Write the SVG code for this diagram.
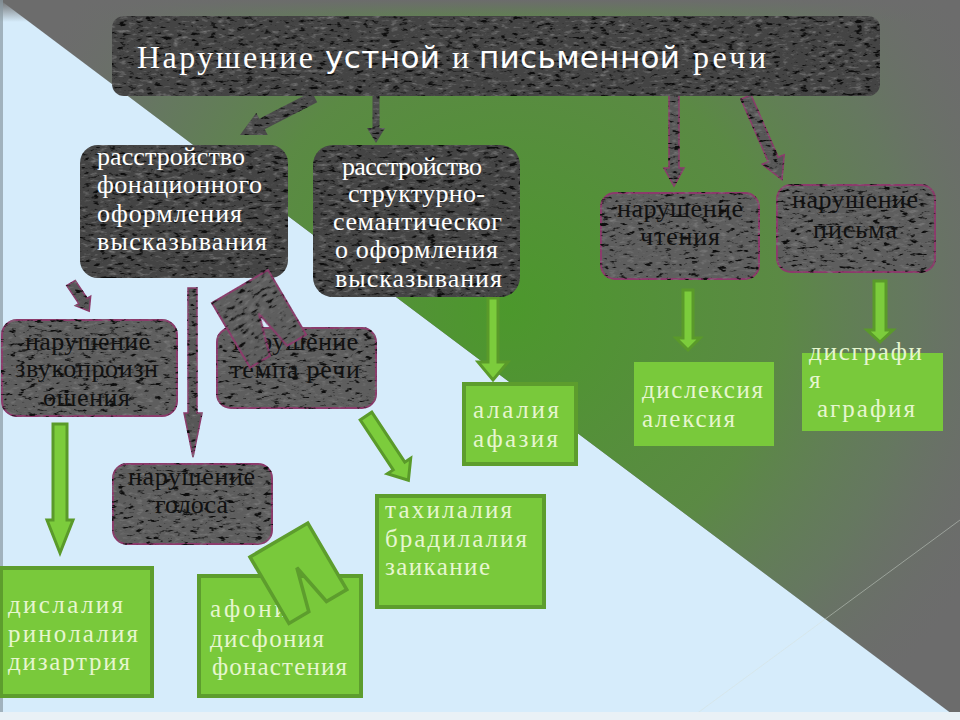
<svg xmlns="http://www.w3.org/2000/svg" width="960" height="720" viewBox="0 0 960 720">
<defs>
  <radialGradient id="glow" gradientUnits="userSpaceOnUse" cx="510" cy="310" r="540">
    <stop offset="0" stop-color="#4c982c" stop-opacity="1"/>
    <stop offset="0.5" stop-color="#5a8b42" stop-opacity="0.95"/>
    <stop offset="0.75" stop-color="#617f58" stop-opacity="0.6"/>
    <stop offset="1" stop-color="#6c6c6c" stop-opacity="0"/>
  </radialGradient>
  <linearGradient id="topfade" x1="0" y1="0" x2="0" y2="1">
    <stop offset="0" stop-color="#6c6c6c" stop-opacity="1"/>
    <stop offset="1" stop-color="#6c6c6c" stop-opacity="0"/>
  </linearGradient>
  <filter id="stone" color-interpolation-filters="sRGB">
    <feTurbulence type="fractalNoise" baseFrequency="0.11 0.3" numOctaves="3" seed="9" result="n"/>
    <feColorMatrix in="n" type="matrix" values="0 0 0 0 0.05  0 0 0 0 0.05  0 0 0 0 0.05  -6 0 0 0 2.4" result="d"/>
    <feComposite in="d" in2="SourceGraphic" operator="in" result="d2"/>
    <feColorMatrix in="n" type="matrix" values="0 0 0 0 0.48  0 0 0 0 0.48  0 0 0 0 0.48  3 0 0 0 -1.7" result="l"/>
    <feComposite in="l" in2="SourceGraphic" operator="in" result="l2"/>
    <feMerge><feMergeNode in="SourceGraphic"/><feMergeNode in="l2"/><feMergeNode in="d2"/></feMerge>
  </filter>
  <style>
    .dnode { fill: #444444; filter: url(#stone); }
    .pnode { fill: #5e5e5e; stroke: #8b3b6b; stroke-width: 2; filter: url(#stone); }
    .darrow { fill: #4a4a4a; filter: url(#stone); }
    .parrow { fill: #575757; stroke: #8b3b6b; stroke-width: 1.5; filter: url(#stone); }
    .garrow { fill: #7ccc3c; stroke: #5a9a2a; stroke-width: 3; }
    .gbox { fill: #79c93b; stroke: #5d9d2d; stroke-width: 4; }
    .gbox2 { fill: #79c93b; }
    .wt { font-family: "Liberation Serif", serif; font-size: 26px; fill: #ffffff; }
    .bt { font-family: "Liberation Serif", serif; font-size: 26px; fill: #111111; }
    .gt { font-family: "Liberation Serif", serif; font-size: 25px; fill: #e6f6cf; }
    .ts { font-family: "Liberation Serif", serif; font-size: 32px; fill: #ffffff; }
    .tn { font-family: "DejaVu Sans", sans-serif; font-size: 31px; fill: #ffffff; }
  </style>
</defs>

<g id="background">
  <rect width="960" height="720" fill="#d6ecfb"/>
  <polygon points="0,0 960,0 960,720" fill="#6c6c6c"/>
  <polygon points="0,0 960,0 960,720" fill="url(#glow)"/>
  <rect x="0" y="0" width="960" height="22" fill="url(#topfade)"/>
  <line x1="960" y1="520" x2="688" y2="720" stroke="#d8e0d8" stroke-opacity="0.45" stroke-width="1"/>
  <rect x="0" y="0" width="3" height="712" fill="#8a9aa3" opacity="0.7"/>
  <rect x="0" y="712" width="960" height="8" fill="#e9f1f6"/>
</g>

<g id="connectors">
  <polygon class="darrow" points="311.8,91.7 259.3,118.7 256.3,112.9 240,135 267.7,135.1 264.7,129.3 317.2,102.3"/>
  <polygon class="darrow" points="372.5,90 372.5,128 367,128 376,143 385,128 379.5,128 379.5,90"/>
  <polygon class="parrow" points="669,92 669,168 664,168 674,186 684,168 679,168 679,92"/>
  <polygon class="parrow" points="741,99.2 768.2,161.6 762.2,164.2 782,179.6 784.2,154.6 778.2,157.2 751,94.8"/>
  <polygon class="parrow" points="66.75,285.6 78.75,303.6 75.35,305.7 89.2,311.2 90.65,296.3 87.25,298.4 75.25,280.4"/>
  <polygon class="parrow" points="188,288 188,413 184,413 193,457 202,413 197,413 197,288"/>
  <polygon class="garrow" points="488,298 488,362 478,362 493,380 508,362 498,362 498,298"/>
  <polygon class="garrow" points="683,290 683,338 676,338 688,350 700,338 693,338 693,290"/>
  <polygon class="garrow" points="874,281 874,330 867,330 880,342 893,330 886,330 886,281"/>
  <polygon class="garrow" points="53,424 53,520 47,520 60,553 73,520 67,520 67,424"/>
  <polygon class="garrow" points="360.2,419.9 393.2,469.9 387.3,473.7 408.4,480.2 410.7,458.3 404.8,462.2 371.8,412.2"/>
</g>

<g id="title">
  <rect class="dnode" x="112" y="16" width="768" height="80" rx="12"/>
  <text class="ts" x="137" y="68" textLength="176" lengthAdjust="spacing">Нарушение</text>
  <text class="tn" x="325" y="68" textLength="115" lengthAdjust="spacing">устной</text>
  <text class="ts" x="452" y="68">и</text>
  <text class="tn" x="479" y="68" textLength="201" lengthAdjust="spacing">письменной</text>
  <text class="ts" x="693" y="68" textLength="73" lengthAdjust="spacing">речи</text>
</g>

<g id="node-fonation">
  <rect class="dnode" x="80" y="145" width="208" height="133" rx="18"/>
  <text class="wt" x="97" y="165" textLength="148" lengthAdjust="spacing">расстройство</text>
  <text class="wt" x="97" y="193" textLength="165" lengthAdjust="spacing">фонационного</text>
  <text class="wt" x="97" y="222" textLength="145" lengthAdjust="spacing">оформления</text>
  <text class="wt" x="97" y="250" textLength="170" lengthAdjust="spacing">высказывания</text>
</g>

<g id="node-structural">
  <rect class="dnode" x="313" y="145" width="207" height="152" rx="20"/>
  <text class="wt" x="342" y="175" textLength="140" lengthAdjust="spacing">расстройство</text>
  <text class="wt" x="348" y="202" textLength="137" lengthAdjust="spacing">структурно-</text>
  <text class="wt" x="333" y="230" textLength="169" lengthAdjust="spacing">семантическог</text>
  <text class="wt" x="335" y="258" textLength="163" lengthAdjust="spacing">о оформления</text>
  <text class="wt" x="335" y="287" textLength="167" lengthAdjust="spacing">высказывания</text>
</g>

<g id="node-sound">
  <rect class="pnode" x="2" y="320" width="175" height="96" rx="15"/>
  <text class="bt" x="25" y="350" textLength="125" lengthAdjust="spacing">нарушение</text>
  <text class="bt" x="15" y="377" textLength="143" lengthAdjust="spacing">звукопроизн</text>
  <text class="bt" x="43" y="406" textLength="87" lengthAdjust="spacing">ошения</text>
</g>

<g id="node-tempo">
  <rect class="pnode" x="217" y="328" width="159" height="80" rx="14"/>
  <text class="bt" x="233" y="350" textLength="125" lengthAdjust="spacing">нарушение</text>
  <text class="bt" x="230" y="378" textLength="130" lengthAdjust="spacing">темпа речи</text>
</g>

<g id="node-voice">
  <rect class="pnode" x="113" y="464" width="159" height="80" rx="14"/>
  <text class="bt" x="128" y="485" textLength="127" lengthAdjust="spacing">нарушение</text>
  <text class="bt" x="155" y="513" textLength="73" lengthAdjust="spacing">голоса</text>
</g>

<g id="node-reading">
  <rect class="pnode" x="601" y="193" width="158" height="86" rx="14"/>
  <text class="bt" x="617" y="217" textLength="126" lengthAdjust="spacing">нарушение</text>
  <text class="bt" x="640" y="245" textLength="80" lengthAdjust="spacing">чтения</text>
</g>

<g id="node-writing">
  <rect class="pnode" x="777" y="185" width="158" height="87" rx="14"/>
  <text class="bt" x="792" y="208" textLength="126" lengthAdjust="spacing">нарушение</text>
  <text class="bt" x="813" y="238" textLength="84" lengthAdjust="spacing">письма</text>
</g>

<g id="box-alalia">
  <rect class="gbox" x="464" y="384" width="112" height="80"/>
  <text class="gt" x="473" y="418" textLength="86" lengthAdjust="spacing">алалия</text>
  <text class="gt" x="473" y="447" textLength="85" lengthAdjust="spacing">афазия</text>
</g>

<g id="box-tempo">
  <rect class="gbox" x="377" y="496" width="167" height="111"/>
  <text class="gt" x="385" y="518" textLength="127" lengthAdjust="spacing">тахилалия</text>
  <text class="gt" x="385" y="547" textLength="142" lengthAdjust="spacing">брадилалия</text>
  <text class="gt" x="385" y="575" textLength="105" lengthAdjust="spacing">заикание</text>
</g>

<g id="box-dyslexia">
  <rect class="gbox2" x="634" y="362" width="140" height="84"/>
  <text class="gt" x="642" y="398" textLength="121" lengthAdjust="spacing">дислексия</text>
  <text class="gt" x="642" y="427" textLength="93" lengthAdjust="spacing">алексия</text>
</g>

<g id="box-dysgraphia">
  <rect class="gbox2" x="802" y="353" width="141" height="78"/>
  <text class="gt" x="809" y="360" textLength="113" lengthAdjust="spacing">дисграфи</text>
  <text class="gt" x="809" y="388">я</text>
  <text class="gt" x="817" y="417" textLength="98" lengthAdjust="spacing">аграфия</text>
</g>

<g id="box-dyslalia">
  <rect class="gbox" x="1" y="568" width="151" height="128"/>
  <text class="gt" x="8" y="613" textLength="115" lengthAdjust="spacing">дислалия</text>
  <text class="gt" x="8" y="642" textLength="130" lengthAdjust="spacing">ринолалия</text>
  <text class="gt" x="8" y="670" textLength="122" lengthAdjust="spacing">дизартрия</text>
</g>

<g id="box-aphonia">
  <rect class="gbox" x="199" y="576" width="162" height="120"/>
  <text class="gt" x="210" y="617" textLength="92" lengthAdjust="spacing">афония</text>
  <text class="gt" x="210" y="647" textLength="114" lengthAdjust="spacing">дисфония</text>
  <text class="gt" x="212" y="675" textLength="135" lengthAdjust="spacing">фонастения</text>
</g>

<g id="broken-shapes">
  <path class="pnode" transform="translate(212,303) rotate(-30.5)" d="M0,0 H65 V75 H43 L35,33 L23,75 H0 Z"/>
  <path transform="translate(250,557) rotate(-30.4)" d="M0,0 H67 V77 H43.5 L35,33 L23,77 H0 Z" fill="#79c93b" stroke="#5d9d2d" stroke-width="3.5" stroke-linejoin="miter"/>
</g>
</svg>
